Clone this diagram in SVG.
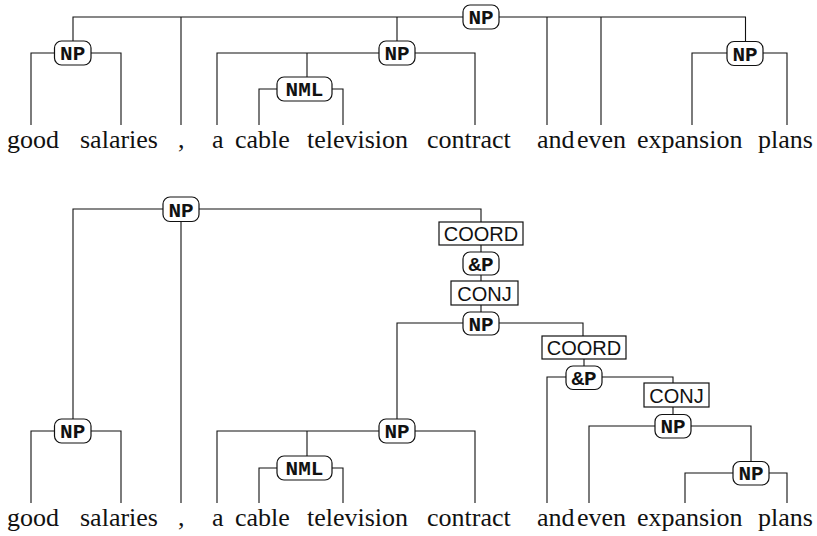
<svg xmlns="http://www.w3.org/2000/svg" width="817" height="536" viewBox="0 0 817 536">
<style>
.c{fill:none;stroke:#111;stroke-width:1.1}
.r{fill:#fff;stroke:#111;stroke-width:1.2}
.p{font-family:"Liberation Mono","Courier New",monospace;font-weight:bold;font-size:21px;text-anchor:middle;fill:#111}
.s{font-family:"Liberation Sans",Arial,sans-serif;font-size:20px;text-anchor:middle;fill:#111}
</style>
<rect width="817" height="536" fill="#fff"/>
<g id="connectors" class="c">
<path d="M73 41V17H745.5V42M181 17V125M397 17V41M547 17V125M601 17V125"/>
<path d="M31 125V53H121V125"/>
<path d="M217 125V53H475V125M307 53V77"/>
<path d="M259 125V89H343V125"/>
<path d="M692 125V53H787V125"/>
<path d="M73 419V209H481V222M181 209V503"/>
<path d="M481 245V252M481 275V281M481 305V312"/>
<path d="M397 419V323H583V336M584 359V366"/>
<path d="M547 503V377H673V383M673 407V415"/>
<path d="M589 503V426H751V462"/>
<path d="M685 503V473H787V503"/>
<path d="M31 503V431H121V503"/>
<path d="M217 503V431H475V503M307 431V456"/>
<path d="M259 503V468H343V503"/>
</g>
<g id="t-np-root"><rect class="r" x="463" y="5" width="36" height="24" rx="7"/><text class="p" x="481" y="24">NP</text></g>
<g id="t-np-good"><rect class="r" x="54.5" y="41" width="36.5" height="24" rx="7"/><text class="p" x="72.7" y="60">NP</text></g>
<g id="t-np-cable"><rect class="r" x="379" y="41" width="36" height="24" rx="7"/><text class="p" x="397" y="60">NP</text></g>
<g id="t-nml"><rect class="r" x="277" y="77" width="55" height="24" rx="7"/><text class="p" x="304.5" y="96">NML</text></g>
<g id="t-np-plans"><rect class="r" x="727" y="41.5" width="36" height="24" rx="7"/><text class="p" x="745" y="60.5">NP</text></g>
<g id="b-np-root"><rect class="r" x="163" y="197" width="36" height="24.5" rx="7"/><text class="p" x="181" y="216.5">NP</text></g>
<g id="b-coord1"><rect class="r" x="439" y="222" width="84" height="23"/><text class="s" x="481" y="241">COORD</text></g>
<g id="b-andp1"><rect class="r" x="463" y="252" width="36" height="23" rx="7"/><text class="p" x="481" y="270.5">&amp;P</text></g>
<g id="b-conj1"><rect class="r" x="451" y="281" width="67" height="24"/><text class="s" x="484.5" y="300.5">CONJ</text></g>
<g id="b-np2"><rect class="r" x="463" y="312" width="36" height="23" rx="7"/><text class="p" x="481" y="330.5">NP</text></g>
<g id="b-coord2"><rect class="r" x="542" y="336" width="84" height="23"/><text class="s" x="584" y="355">COORD</text></g>
<g id="b-andp2"><rect class="r" x="566" y="366" width="36" height="23.5" rx="7"/><text class="p" x="584" y="384.5">&amp;P</text></g>
<g id="b-conj2"><rect class="r" x="644" y="383" width="65" height="24"/><text class="s" x="676.5" y="402.5">CONJ</text></g>
<g id="b-np3"><rect class="r" x="655" y="414.5" width="36" height="23.5" rx="7"/><text class="p" x="673" y="433">NP</text></g>
<g id="b-np4"><rect class="r" x="733" y="461.5" width="36" height="23.5" rx="7"/><text class="p" x="751" y="480">NP</text></g>
<g id="b-np-good"><rect class="r" x="54.5" y="419" width="36.5" height="24" rx="7"/><text class="p" x="72.7" y="438">NP</text></g>
<g id="b-np-cable"><rect class="r" x="379" y="419" width="36" height="24" rx="7"/><text class="p" x="397" y="438">NP</text></g>
<g id="b-nml"><rect class="r" x="277" y="456" width="55" height="24" rx="7"/><text class="p" x="304.5" y="475">NML</text></g>
<g id="words-top" font-family="'Liberation Serif', 'Times New Roman', 'DejaVu Serif', serif" font-size="26" fill="#111">
<text x="7" y="148">good</text><text x="80" y="148">salaries</text><text x="178" y="148">,</text><text x="212" y="148">a</text><text x="235" y="148">cable</text><text x="307" y="148">television</text><text x="427" y="148">contract</text><text x="537" y="148">and</text><text x="577" y="148">even</text><text x="637" y="148">expansion</text><text x="758" y="148">plans</text>
</g>
<g id="words-bottom" font-family="'Liberation Serif', 'Times New Roman', 'DejaVu Serif', serif" font-size="26" fill="#111">
<text x="7" y="526">good</text><text x="80" y="526">salaries</text><text x="178" y="526">,</text><text x="212" y="526">a</text><text x="235" y="526">cable</text><text x="307" y="526">television</text><text x="427" y="526">contract</text><text x="537" y="526">and</text><text x="577" y="526">even</text><text x="637" y="526">expansion</text><text x="758" y="526">plans</text>
</g>
</svg>
